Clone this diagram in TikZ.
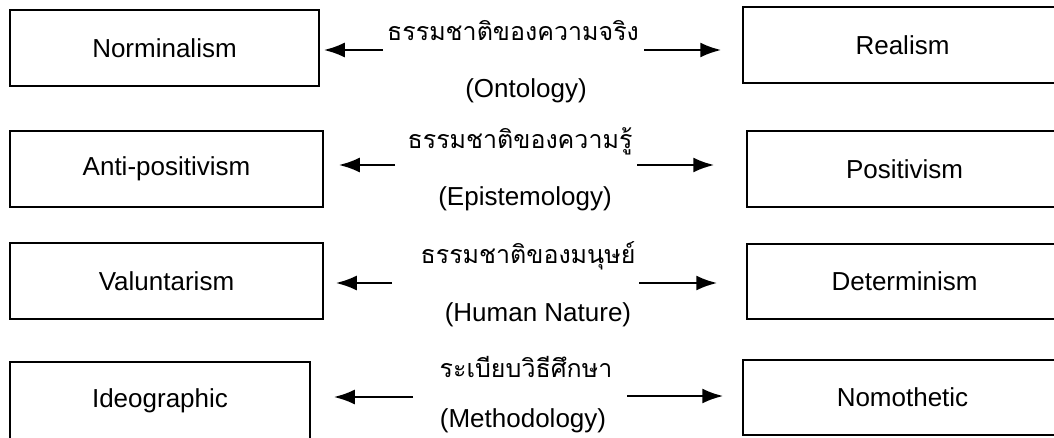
\documentclass[tikz,border=0pt]{standalone}
\usepackage{fontspec}
\setmainfont{Liberation Sans}
\newfontfamily\thaifont[Script=Thai]{Loma}
\usetikzlibrary{arrows.meta}
\tikzset{
  box/.style={draw, line width=1.5pt, inner sep=0pt, font=\fontsize{26}{30}\selectfont},
  thai/.style={anchor=base, inner sep=0pt, font=\thaifont\fontsize{25}{29}\selectfont},
  eng/.style={anchor=base, inner sep=0pt, font=\fontsize{26}{30}\selectfont},
  arr/.style={line width=2.4pt, -{Latex[length=21pt,width=15pt]}}
}
\begin{document}
\begin{tikzpicture}[x=1pt,y=-1pt]
\clip (0,0) rectangle (1054,437);
% left boxes
\node[box, minimum width=309pt, minimum height=76pt] (l1) at (164.5,48) {Norminalism};
\node[box, minimum width=313pt, minimum height=76pt] (l2) at (166.5,169) {Anti-positivism};
\node[box, minimum width=313pt, minimum height=76pt] (l3) at (166.5,281) {Valuntarism};
\node[box, minimum width=300pt, minimum height=78pt] (l4) at (160,401) {Ideographic};
% right boxes
\node[box, minimum width=319pt, minimum height=76pt] (r1) at (902.5,45) {Realism};
\node[box, minimum width=315pt, minimum height=76pt] (r2) at (904.5,169) {Positivism};
\node[box, minimum width=315pt, minimum height=75pt] (r3) at (904.5,281.5) {Determinism};
\node[box, minimum width=319pt, minimum height=75pt] (r4) at (902.5,397.5) {Nomothetic};
% middle texts
\node[thai] (th1) at (513,40) {ธรรมชาติของความจริง};
\node[eng] (en1) at (526,97) {(Ontology)};
\node[thai] (th2) at (520,148) {ธรรมชาติของความรู้};
\node[eng] (en2) at (525,205) {(Epistemology)};
\node[thai] (th3) at (528,263) {ธรรมชาติของมนุษย์};
\node[eng] (en3) at (538,321) {(Human Nature)};
\node[thai] (th4) at (526,377) {ระเบียบวิธีศึกษา};
\node[eng] (en4) at (523,427) {(Methodology)};
% arrow tails
\coordinate (a1l) at (383,50);
\coordinate (a1r) at (644,50);
\coordinate (a2l) at (395,165);
\coordinate (a2r) at (637,165);
\coordinate (a3l) at (392,283);
\coordinate (a3r) at (639,283);
\coordinate (a4l) at (413,397);
\coordinate (a4r) at (627,396);
% arrows
\draw[arr, shorten >=4pt] (a1l) -- (a1l -| l1.east);
\draw[arr, shorten >=21pt] (a1r) -- (a1r -| r1.west);
\draw[arr, shorten >=15pt] (a2l) -- (a2l -| l2.east);
\draw[arr, shorten >=32pt] (a2r) -- (a2r -| r2.west);
\draw[arr, shorten >=12pt] (a3l) -- (a3l -| l3.east);
\draw[arr, shorten >=29pt] (a3r) -- (a3r -| r3.west);
\draw[arr, shorten >=23pt] (a4l) -- (a4l -| l4.east);
\draw[arr, shorten >=19pt] (a4r) -- (a4r -| r4.west);
\end{tikzpicture}
\end{document}
